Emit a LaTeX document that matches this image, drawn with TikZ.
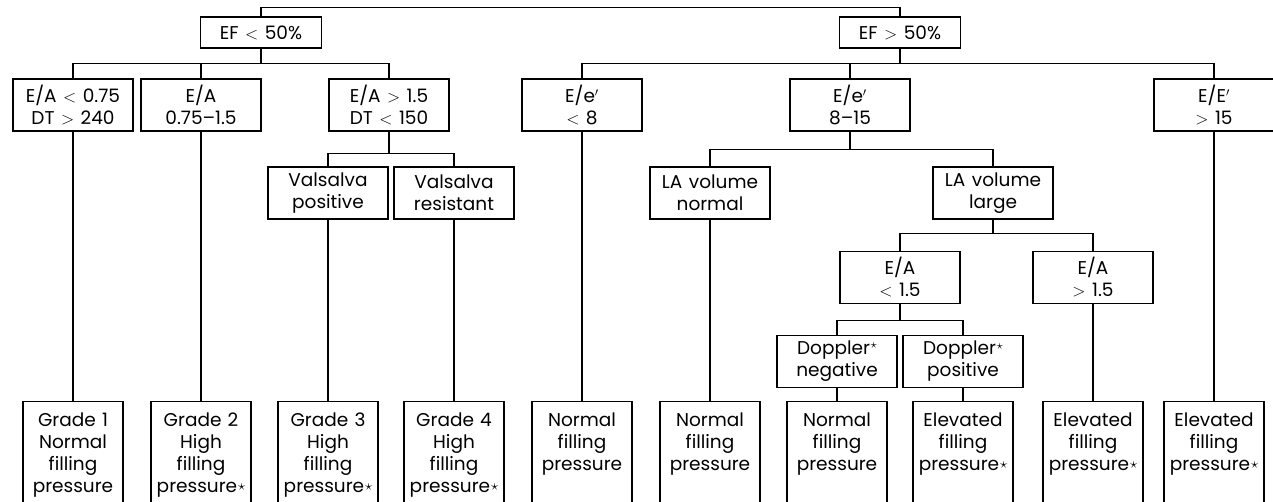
\documentclass[tikz,border=0pt]{standalone}
\usepackage{fontspec}
\usepackage{graphicx}
\setmainfont{Poppins}
\newcommand\fstar{\kern0.05em\raisebox{0.1em}{\scalebox{0.85}{$\star$}}}
\newcommand\dstar{\kern0.03em\raisebox{0.32em}{\scalebox{0.75}{$\star$}}}
\newcommand\lessx{$<$}
\newcommand\grtx{$>$}
\newcommand\txtfont{\fontsize{18.5}{22}\selectfont\spaceskip=0.35em plus 0.1em\relax}
\newcommand\branch[3]{\draw[link] (#1.south) -- ++(0,#3) -| (#2.north);}

\begin{document}
\begin{tikzpicture}[x=1pt, y=-1pt,
	box/.style={draw, font=\txtfont, line width=1.1pt, minimum width=120pt, minimum height=52pt,
		inner sep=0pt, align=center},
	efbox/.style={box, minimum width=121pt, minimum height=31pt},
	leaf/.style={draw, font=\txtfont, line width=1.1pt, anchor=north, text width=100pt, align=center,
		inner xsep=0pt, inner ysep=6pt, text height=19pt, text depth=95pt},
	link/.style={line width=1.1pt}]
	\useasboundingbox (0,0) rectangle (1273,502);
	% EF
	\node [efbox] (ef1) at (261,32.5) {EF \lessx{} 50\%};
	\node [efbox] (ef2) at (900,32.5) {EF \grtx{} 50\%};
	% E/A, E/e'
	\node [box] (ea1) at (73,105)   {E/A \lessx{} 0.75\\DT \grtx{} 240};
	\node [box] (ea2) at (201,105)  {E/A\\0.75–1.5};
	\node [box] (ea3) at (389,105)  {E/A \grtx{} 1.5\\DT \lessx{} 150};
	\node [box] (ee1) at (582,105)  {E/e$'$\\\lessx{} 8};
	\node [box] (ee2) at (850,105)  {E/e$'$\\8–15};
	\node [box] (ee3) at (1214,105) {E/E$'$\\\grtx{} 15};
	% Valsalva, LA volume
	\node [box] (val1) at (328,193) {Valsalva\\positive};
	\node [box] (val2) at (454,193) {Valsalva\\resistant};
	\node [box] (lan)  at (710,193) {LA volume\\normal};
	\node [box] (lal)  at (993,193) {LA volume\\large};
	\node [box] (eal)  at (900,277.5)  {E/A\\\lessx{} 1.5};
	\node [box] (eah)  at (1093,277.5) {E/A\\\grtx{} 1.5};
	\node [box] (dneg) at (837,361.5)  {Doppler\dstar\\negative};
	\node [box] (dpos) at (963,361.5)  {Doppler\dstar\\positive};
	% Folhas
	\node [leaf] (g1) at (73,401)   {Grade 1\\Normal\\filling\\pressure};
	\node [leaf] (g2) at (201,401)  {Grade 2\\High\\filling\\pressure\fstar};
	\node [leaf] (g3) at (328,401)  {Grade 3\\High\\filling\\pressure\fstar};
	\node [leaf] (g4) at (454,401)  {Grade 4\\High\\filling\\pressure\fstar};
	\node [leaf] (n1) at (582,401)  {Normal\\filling\\pressure};
	\node [leaf] (n2) at (710,401)  {Normal\\filling\\pressure};
	\node [leaf] (n3) at (837,401)  {Normal\\filling\\pressure};
	\node [leaf] (e1) at (963,401)  {Elevated\\filling\\pressure\fstar};
	\node [leaf] (e2) at (1093,401) {Elevated\\filling\\pressure\fstar};
	\node [leaf] (e3) at (1214,401) {Elevated\\filling\\pressure\fstar};
	% Ligações
	\draw [link] (ef1.north) -- ++(0,-9) -| (ef2.north);
	\branch{ef1}{ea1}{15} \branch{ef1}{ea2}{15} \branch{ef1}{ea3}{15}
	\branch{ef2}{ee1}{15} \branch{ef2}{ee2}{15} \branch{ef2}{ee3}{15}
	\branch{ea3}{val1}{22} \branch{ea3}{val2}{22}
	\branch{ee2}{lan}{18} \branch{ee2}{lal}{18}
	\branch{lal}{eal}{14} \branch{lal}{eah}{14}
	\branch{eal}{dneg}{16} \branch{eal}{dpos}{16}
	\foreach \a/\b in {ea1/g1, ea2/g2, val1/g3, val2/g4, ee1/n1, lan/n2, dneg/n3, dpos/e1, eah/e2, ee3/e3}
		\draw [link] (\a.south) -- (\b.north);
\end{tikzpicture}
\end{document}
